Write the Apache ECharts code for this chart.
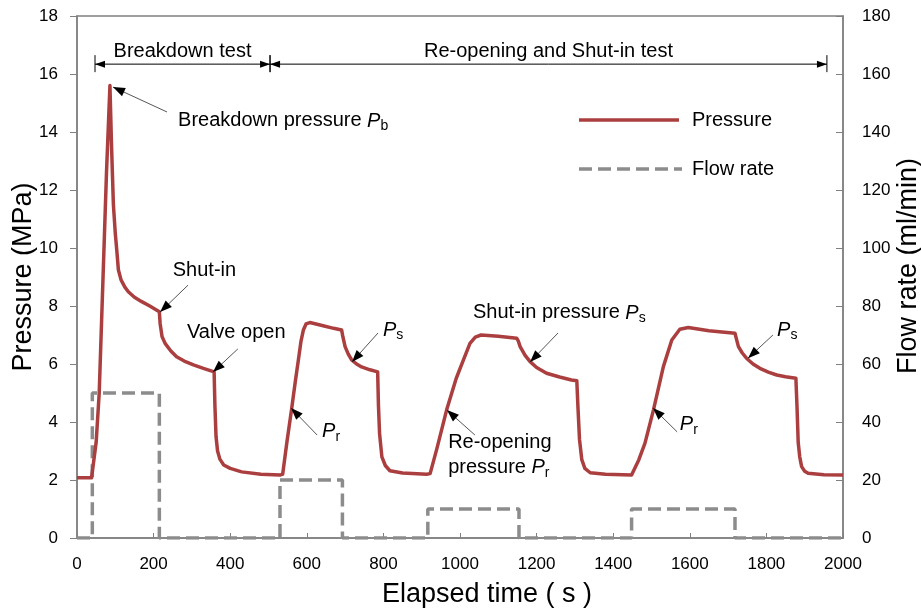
<!DOCTYPE html>
<html>
<head>
<meta charset="utf-8">
<script src="https://cdn.jsdelivr.net/npm/echarts@6.0.0/dist/echarts.min.js"></script>
<style>
  html, body { margin: 0; padding: 0; background: #fff; }
  #main { width: 921px; height: 608px; }
</style>
</head>
<body>
<div id="main"></div>
<script>
// pressure record [time (s), pressure (MPa)], split by test stage
var pressureBreakdown = [
  [0, 2.08], [38, 2.08], [42, 2.12], [50, 3.3], [58, 5.0], [69, 9.4], [77, 12.6], [86, 15.6],
  [90, 13.6], [95, 11.5], [100, 10.5], [104, 9.9], [108, 9.25], [115, 8.9], [125, 8.65],
  [134, 8.49], [150, 8.3], [169, 8.15], [190, 8.0], [215, 7.8], [217, 7.4], [222, 6.95],
  [230, 6.71], [245, 6.45], [260, 6.25], [280, 6.1], [304, 5.97], [330, 5.85], [358, 5.73],
  [360, 4.6], [363, 3.5], [367, 3.0], [373, 2.72], [383, 2.52], [400, 2.4], [430, 2.28],
  [480, 2.2], [530, 2.17]
];
var pressureCycle1 = [
  [537, 2.2], [548, 3.3], [560, 4.41], [570, 5.4], [578, 6.14], [585, 6.8], [591, 7.17],
  [598, 7.38], [608, 7.43], [640, 7.33], [670, 7.23], [691, 7.17], [694, 6.95], [700, 6.6],
  [708, 6.35], [717, 6.14], [730, 6.0], [743, 5.9], [765, 5.8], [785, 5.73], [787, 4.6],
  [790, 3.6], [796, 2.8], [805, 2.5], [817, 2.32], [850, 2.24], [913, 2.2], [922, 2.22]
];
var pressureCycle2 = [
  [940, 3.1], [965, 4.41], [990, 5.5], [1009, 6.14], [1026, 6.71], [1040, 6.93], [1055, 7.0],
  [1100, 6.96], [1148, 6.89], [1152, 6.8], [1157, 6.6], [1170, 6.3], [1183, 6.08],
  [1200, 5.88], [1226, 5.68], [1260, 5.55], [1291, 5.45], [1305, 5.42], [1308, 4.5],
  [1312, 3.4], [1318, 2.7], [1326, 2.4], [1340, 2.25], [1380, 2.2], [1448, 2.17]
];
var pressureCycle3 = [
  [1452, 2.2], [1467, 2.7], [1483, 3.27], [1505, 4.41], [1531, 5.91], [1553, 6.83],
  [1574, 7.2], [1596, 7.26], [1650, 7.15], [1718, 7.06], [1722, 6.85], [1727, 6.6],
  [1737, 6.38], [1748, 6.2], [1765, 6.0], [1783, 5.85], [1805, 5.72], [1827, 5.62],
  [1850, 5.56], [1877, 5.51], [1880, 4.5], [1883, 3.3], [1887, 2.8], [1892, 2.46],
  [1900, 2.3], [1909, 2.23], [1950, 2.18], [2000, 2.17]
];
// pump flow rate [time (s), ml/min]
var flowRate = [
  [0, 0], [40, 0], [40, 50], [215, 50], [215, 0], [530, 0], [530, 20], [693, 20], [693, 0],
  [916, 0], [916, 10], [1154, 10], [1154, 0], [1448, 0], [1448, 10], [1718, 10], [1718, 0],
  [2000, 0]
];
// annotations: text anchor [t, P], arrow start [t, P], arrow tip [t, P]
var callouts = [
  { text: 'Breakdown pressure {i|P}{s|b}', at: [264, 14.38], from: [235, 14.69], to: [94, 15.55] },
  { text: 'Shut-in', at: [250, 9.24], from: [290, 8.72], to: [217, 7.79] },
  { text: 'Valve open', at: [287, 7.07], from: [420, 6.52], to: [355, 5.72] },
  { text: '{i|P}{s|s}', at: [799, 7.17], from: [786, 7.07], to: [718, 6.07] },
  { text: '{i|P}{s|r}', at: [640, 3.66], from: [627, 3.55], to: [559, 4.48] },
  { text: 'Shut-in pressure {i|P}{s|s}', at: [1034, 7.76], from: [1256, 7.07], to: [1183, 6.07] },
  { text: 'Re-opening\npressure {i|P}{s|r}', at: [969, 2.85], from: [1039, 3.55], to: [966, 4.41] },
  { text: '{i|P}{s|s}', at: [1828, 7.17], from: [1817, 7.0], to: [1752, 6.2] },
  { text: '{i|P}{s|r}', at: [1574, 3.9], from: [1567, 3.66], to: [1504, 4.48] }
];
var stages = [
  { text: 'Breakdown test', from: 47, to: 504 },
  { text: 'Re-opening and Shut-in test', from: 504, to: 1958 }
];
var stageLevel = 16.34;
var stageTextLevel = 16.76;

var FONT = '"Liberation Sans", Arial, sans-serif';
var RED = '#ab3f3f';
var GREY = '#8c8c8c';
var DASH = [13, 6];
var chart = echarts.init(document.getElementById('main'));

chart.setOption({
  animation: false,
  grid: {
    left: 77, right: 78, top: 16, bottom: 70, containLabel: false, outerBoundsMode: 'none',
    show: true, borderColor: '#808080', borderWidth: 1.5
  },
  xAxis: {
    type: 'value', min: 0, max: 2000, interval: 200,
    name: 'Elapsed time ( s )', nameLocation: 'middle', nameGap: 43,
    nameTextStyle: { fontFamily: FONT, fontSize: 27, color: '#000', padding: [0, 0, 0, 54] },
    axisLine: { lineStyle: { color: '#808080', width: 1.5 } },
    axisTick: { inside: true, length: 5, lineStyle: { color: '#808080' } },
    axisLabel: { fontFamily: FONT, fontSize: 17, color: '#000', margin: 18, formatter: function (v) { return String(v); } },
    splitLine: { show: false }
  },
  yAxis: [{
    type: 'value', min: 0, max: 18, interval: 2,
    name: 'Pressure (MPa)', nameLocation: 'middle', nameGap: 40, nameRotate: 90, nameMoveOverlap: false,
    nameTextStyle: { fontFamily: FONT, fontSize: 27, color: '#000' },
    axisLine: { show: true, lineStyle: { color: '#808080', width: 1.5 } },
    axisTick: { show: true, length: 7, lineStyle: { color: '#808080' } },
    axisLabel: { fontFamily: FONT, fontSize: 17, color: '#000', margin: 19 },
    splitLine: { show: false }
  }, {
    type: 'value', min: 0, max: 180, interval: 20, position: 'right',
    name: 'Flow rate (ml/min)', nameLocation: 'middle', nameGap: 52, nameRotate: 90, nameMoveOverlap: false,
    nameTextStyle: { fontFamily: FONT, fontSize: 27, color: '#000', padding: [0, 0, 0, 22] },
    axisLine: { show: true, lineStyle: { color: '#808080', width: 1.5 } },
    axisTick: { show: true, inside: true, length: 7, lineStyle: { color: '#808080' } },
    axisLabel: { fontFamily: FONT, fontSize: 17, color: '#000', margin: 19 },
    splitLine: { show: false }
  }],
  series: [{
    name: 'Flow rate', type: 'line', yAxisIndex: 1, data: flowRate,
    showSymbol: false, symbol: 'none', z: 2,
    lineStyle: { color: GREY, width: 3.5, type: DASH },
    itemStyle: { color: GREY }
  }, {
    name: 'Pressure', type: 'line', yAxisIndex: 0,
    data: [].concat(pressureBreakdown, pressureCycle1, pressureCycle2, pressureCycle3),
    showSymbol: false, symbol: 'none', smooth: false, z: 3,
    lineStyle: { color: RED, width: 3.5, join: 'round' },
    itemStyle: { color: RED }
  }]
});

// annotation layer, positioned from data coordinates
function px(p) { return chart.convertToPixel({ xAxisIndex: 0, yAxisIndex: 0 }, p); }
function arrowHead(tip, from, len, half) {
  var dx = tip[0] - from[0], dy = tip[1] - from[1];
  var d = Math.sqrt(dx * dx + dy * dy);
  var ux = dx / d, uy = dy / d;
  var bx = tip[0] - ux * len, by = tip[1] - uy * len;
  return {
    type: 'polygon', silent: true, z: 20,
    shape: { points: [tip, [bx - uy * half, by + ux * half], [bx + uy * half, by - ux * half]] },
    style: { fill: '#000' }
  };
}
var rich = {
  i: { fontFamily: FONT, fontSize: 20, fontStyle: 'italic', lineHeight: 25 },
  s: { fontFamily: FONT, fontSize: 14, verticalAlign: 'bottom', lineHeight: 14 }
};
var g = [];
callouts.forEach(function (c) {
  var a = px(c.at), f = px(c.from), t = px(c.to);
  g.push({
    type: 'line', silent: true, z: 19,
    shape: { x1: f[0], y1: f[1], x2: t[0], y2: t[1] },
    style: { stroke: '#555', lineWidth: 1 }
  });
  g.push(arrowHead(t, f, 12, 4.5));
  g.push({
    type: 'text', silent: true, z: 20, x: a[0], y: a[1],
    style: {
      text: c.text, rich: rich, fill: '#000', align: 'left', verticalAlign: 'middle',
      font: '20px ' + FONT, lineHeight: 25
    }
  });
});
stages.forEach(function (s) {
  var p1 = px([s.from, stageLevel]), p2 = px([s.to, stageLevel]);
  var tp = px([(s.from + s.to) / 2, stageTextLevel]);
  g.push({
    type: 'line', silent: true, z: 19,
    shape: { x1: p1[0], y1: p1[1], x2: p2[0], y2: p2[1] },
    style: { stroke: '#000', lineWidth: 1 }
  });
  g.push(arrowHead(p1, p2, 10, 3.5));
  g.push(arrowHead(p2, p1, 10, 3.5));
  [p1, p2].forEach(function (p) {
    g.push({
      type: 'line', silent: true, z: 19,
      shape: { x1: p[0], y1: p[1] - 9, x2: p[0], y2: p[1] + 8 },
      style: { stroke: '#000', lineWidth: 1 }
    });
  });
  g.push({
    type: 'text', silent: true, z: 20, x: tp[0], y: tp[1],
    style: { text: s.text, fill: '#000', align: 'center', verticalAlign: 'middle', font: '20px ' + FONT }
  });
});
// legend drawn by hand so the keys are plain line samples
var legendKeys = [
  { name: 'Pressure', y: 120, color: RED, dash: null },
  { name: 'Flow rate', y: 169, color: GREY, dash: DASH }
];
legendKeys.forEach(function (k) {
  g.push({
    type: 'line', silent: true, z: 20,
    shape: { x1: 579, y1: k.y, x2: k.dash ? 682 : 679, y2: k.y },
    style: { stroke: k.color, lineWidth: 3.5, lineDash: k.dash }
  });
  g.push({
    type: 'text', silent: true, z: 20, x: 692, y: k.y,
    style: { text: k.name, fill: '#000', align: 'left', verticalAlign: 'middle', font: '20px ' + FONT }
  });
});
chart.setOption({ graphic: g });
</script>
</body>
</html>
